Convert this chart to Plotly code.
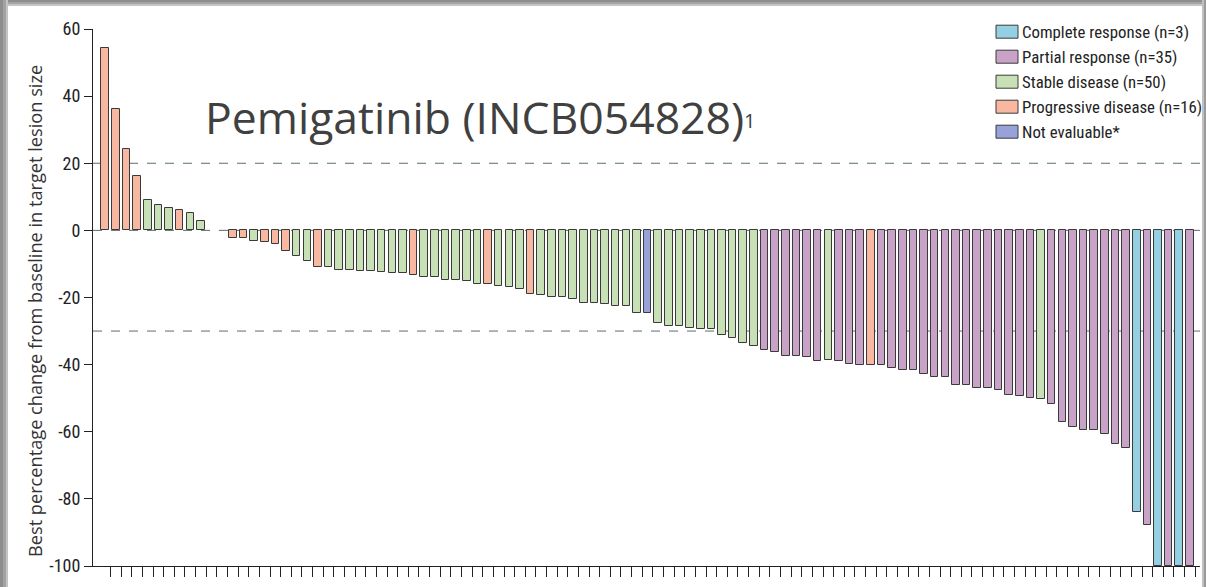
import plotly.graph_objects as go

# Patient positions along the waterfall (1..103); positions 11 and 12 carry no bar
positions = list(range(1, 104))

# Best percentage change from baseline in target lesion size
best_change = [
    54.4, 36.3, 24.3, 16.1, 9.1, 7.5, 6.8, 6.1, 5.1, 2.7,
    None, None,
    -2.3, -2.2, -3.3, -3.6, -4.2, -6.2, -7.5, -9.2, -11.0, -10.9,
    -11.9, -11.9, -12.2, -12.2, -12.5, -12.8, -12.8, -13.3, -13.9, -13.9,
    -14.9, -14.9, -15.2, -15.9, -15.9, -16.6, -17.0, -17.6, -18.9, -19.3,
    -19.9, -19.9, -20.5, -21.5, -21.5, -21.8, -22.5, -22.5, -24.5, -24.5,
    -27.5, -28.5, -28.5, -29.1, -29.5, -29.5, -31.2, -32.1, -33.5, -34.4,
    -35.5, -36.1, -37.4, -37.4, -37.7, -38.8, -38.5, -38.9, -39.8, -40.1,
    -40.1, -40.1, -41.1, -41.5, -41.5, -42.7, -43.7, -43.7, -46.0, -46.0,
    -47.1, -47.1, -47.5, -49.0, -49.3, -50.0, -50.3, -51.7, -57.1, -58.5,
    -59.4, -59.4, -60.7, -63.7, -64.7, -83.9, -87.9, -100, -100, -100,
    -100,
]

# Best overall response per position
response = [
    "PD", "PD", "PD", "PD", "SD", "SD", "SD", "PD", "SD", "SD",
    None, None,
    "PD", "PD", "SD", "PD", "PD", "PD", "SD", "SD", "PD", "SD",
    "SD", "SD", "SD", "SD", "SD", "SD", "SD", "PD", "SD", "SD",
    "SD", "SD", "SD", "SD", "PD", "SD", "SD", "SD", "PD", "SD",
    "SD", "SD", "SD", "SD", "SD", "SD", "SD", "SD", "SD", "NE",
    "SD", "SD", "SD", "SD", "SD", "SD", "SD", "SD", "SD", "SD",
    "PR", "PR", "PR", "PR", "PR", "PR", "SD", "PR", "PR", "PR",
    "PD", "PR", "PR", "PR", "PR", "PR", "PR", "PR", "PR", "PR",
    "PR", "PR", "PR", "PR", "PR", "PR", "SD", "PR", "PR", "PR",
    "PR", "PR", "PR", "PR", "PR", "CR", "PR", "CR", "PR", "CR",
    "PR",
]

legend_keys = ["CR", "PR", "SD", "PD", "NE"]
legend_labels = [
    "Complete response (n=3)",
    "Partial response (n=35)",
    "Stable disease (n=50)",
    "Progressive disease (n=16)",
    "Not evaluable*",
]
fill_colors = {
    "CR": "#94cfe2",
    "PR": "#c9a2c8",
    "SD": "#c7e0b5",
    "PD": "#f7b7a0",
    "NE": "#97a3d8",
}

y_ticks = [60, 40, 20, 0, -20, -40, -60, -80, -100]
y_ticktext = ["60", "40", "20", "0", "-20", "-40", "-60", "-80", "-100"]
threshold_lines = [20, 0, -30]

title_text = "Pemigatinib (INCB054828)"
title_ref = "1"
y_title = "Best percentage change from baseline in target lesion size"

W, H = 1206, 587
L, R, T, B = 93, 1200, 29, 566


def px_x(x):
    return (x - L) / (R - L)


def px_y(y):
    return (B - y) / (B - T)


narrow = "Roboto Condensed, Liberation Sans Narrow, Arial Narrow, sans-serif"
outline = "#3a3a3a"

fig = go.Figure()
for key in legend_keys:
    xs = [p for p, v, r in zip(positions, best_change, response) if r == key and v is not None]
    ys = [v for p, v, r in zip(positions, best_change, response) if r == key and v is not None]
    fig.add_trace(go.Bar(
        x=xs, y=ys, width=0.71,
        marker=dict(color=fill_colors[key], line=dict(color=outline, width=1)),
        showlegend=False, hoverinfo="skip",
    ))

shapes = []
# dashed reference lines
for yv in threshold_lines:
    shapes.append(dict(type="line", xref="paper", yref="y", x0=0, x1=1, y0=yv, y1=yv,
                       line=dict(color="#5a6d6d", width=1, dash="dash"), layer="below"))

# legend swatches
row_y = [31.7, 56.7, 81.7, 106.7, 131.7]
annotations = []
for key, label, yc in zip(legend_keys, legend_labels, row_y):
    shapes.append(dict(type="rect", xref="paper", yref="paper",
                       x0=px_x(996), x1=px_x(1018), y0=px_y(yc + 6.5), y1=px_y(yc - 6.5),
                       fillcolor=fill_colors[key], line=dict(color=outline, width=1)))
    annotations.append(dict(xref="paper", yref="paper", x=px_x(1019.5), y=px_y(yc),
                            xanchor="left", yanchor="middle", text=label, showarrow=False,
                            font=dict(family=narrow, size=16.8, color="#222222")))

# window frame
frame = [
    (0, 0, W, 2, "#8e8e8e"), (0, 2, W, 4, "#a4a4a4"), (0, 4, W, 6, "#c6c6c6"),
    (0, 0, 3, H, "#8e8e8e"), (3, 0, 6, H, "#a2a2a2"), (6, 0, 8, H, "#c4c4c4"),
    (1204, 0, W, H, "#9a9a9a"), (1202, 0, 1204, H, "#c0c0c0"),
]
for x0, y0, x1, y1, c in frame:
    shapes.append(dict(type="rect", xref="paper", yref="paper",
                       x0=px_x(x0), x1=px_x(x1), y0=px_y(y1), y1=px_y(y0),
                       fillcolor=c, line=dict(width=0), layer="above"))

annotations.append(dict(xref="paper", yref="paper", x=px_x(203), y=px_y(116),
                        xanchor="left", yanchor="middle",
                        text=title_text + "<span style='font-size:20px;baseline-shift:6px'>"
                        + title_ref + "</span>",
                        showarrow=False,
                        font=dict(family="Open Sans, sans-serif", size=44.5, color="#404040")))
annotations.append(dict(xref="paper", yref="paper", x=px_x(35), y=px_y(311),
                        xanchor="center", yanchor="middle", textangle=-90,
                        text=y_title, showarrow=False,
                        font=dict(family="Open Sans, sans-serif", size=18.2, color="#333333")))

fig.update_layout(
    width=W, height=H,
    margin=dict(l=L, r=W - R, t=T, b=H - B, pad=0),
    paper_bgcolor="white", plot_bgcolor="white",
    bargap=0, barmode="overlay",
    shapes=shapes, annotations=annotations,
    xaxis=dict(range=[-0.15, 103.95], showgrid=False, zeroline=False,
               showline=True, linecolor="#222222", linewidth=1,
               tickmode="array", tickvals=[p + 0.5 for p in positions], ticktext=[""] * len(positions),
               ticks="outside", ticklen=10, tickcolor="#222222", tickwidth=1),
    yaxis=dict(range=[-100, 60], showgrid=False, zeroline=False,
               showline=True, linecolor="#222222", linewidth=1,
               tickmode="array", tickvals=y_ticks, ticktext=y_ticktext,
               ticks="outside", ticklen=8, tickcolor="#222222", tickwidth=1,
               tickfont=dict(family=narrow, size=18, color="#222222")),
)

fig.write_html("out.html")
